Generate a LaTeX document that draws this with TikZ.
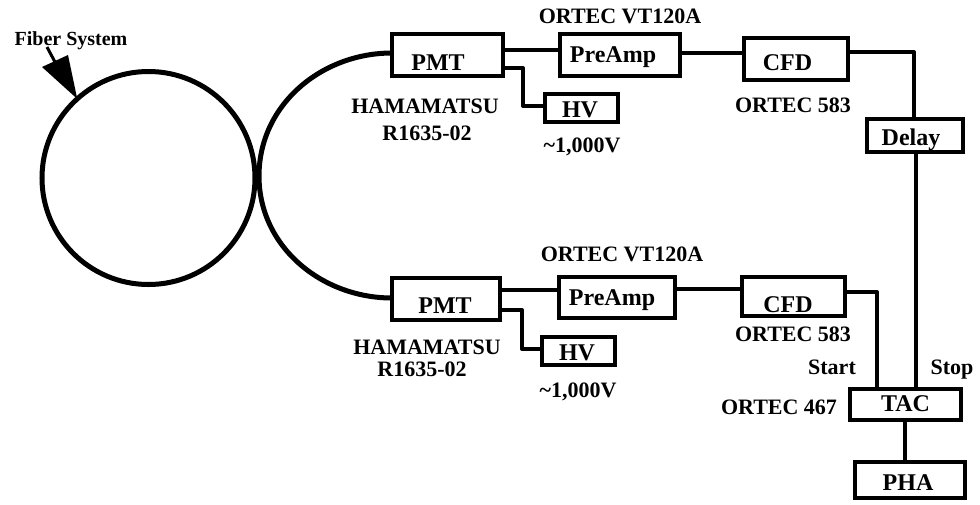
\documentclass[tikz,border=0pt]{standalone}
\usepackage{fontspec}
\setmainfont{Liberation Serif}[BoldFont={Liberation Serif Bold}]
\newcommand\placed[3]{\raisebox{#2pt}[0pt][0pt]{\makebox[0pt][c]{\hspace*{#1pt}#3}}}
\tikzset{
  boxnode/.style={draw=black,line width=4.5pt,fill=white,rectangle,inner sep=0pt,outer sep=0pt,
    font=\fontsize{24}{24}\selectfont\bfseries},
  note/.style={inner sep=0pt,outer sep=0pt,anchor=base,font=\fontsize{22}{22}\selectfont\bfseries},
  wire/.style={draw=black,line width=4pt,line join=round},
  fiber/.style={draw=black,line width=5pt},
}
\begin{document}
\begin{tikzpicture}[x=1pt,y=-1pt]
\useasboundingbox (0,0) rectangle (980,504);
% fibre loop
\node[circle,draw=black,line width=5pt,minimum size=213pt,inner sep=0pt,outer sep=0pt] (ring) at (148.5,178) {};
% boxes (the text offset is given twice over in x, and as a raise of the baseline)
\node[boxnode,minimum width=111pt,minimum height=42pt] (pmta) at (447.5,55) {\placed{-19}{-15}{PMT}};
\node[boxnode,minimum width=120pt,minimum height=42pt] (prea) at (620,55) {\placed{-14}{-7}{PreAmp}};
\node[boxnode,minimum width=104pt,minimum height=42pt] (cfda) at (796,59) {\placed{-17}{-11}{CFD}};
\node[boxnode,minimum width=73pt,minimum height=28pt] (hva) at (581.5,108) {\placed{-3}{-9}{HV}};
\node[boxnode,minimum width=96pt,minimum height=33pt] (delay) at (915,135.5) {\placed{-8}{-9.5}{Delay}};
\node[boxnode,minimum width=108pt,minimum height=42pt] (pmtb) at (446,299) {\placed{-2}{-14}{PMT}};
\node[boxnode,minimum width=116pt,minimum height=41pt] (preb) at (617,297.5) {\placed{-10}{-7.5}{PreAmp}};
\node[boxnode,minimum width=103pt,minimum height=39pt] (cfdb) at (793.5,296.5) {\placed{-11}{-15.5}{CFD}};
\node[boxnode,minimum width=73pt,minimum height=28pt] (hvb) at (578.5,351) {\placed{-3}{-9}{HV}};
\node[boxnode,minimum width=111pt,minimum height=31pt] (tac) at (905.5,404.5) {\placed{0}{-6.5}{TAC}};
\node[boxnode,minimum width=110pt,minimum height=36pt] (pha) at (910,480) {\placed{-4}{-10}{PHA}};
% text labels
\node[note,font=\fontsize{20}{20}\selectfont\bfseries] (fibertext) at (71,45) {Fiber System};
\node[note] (vta) at (620,23) {ORTEC VT120A};
\node[note] (hama) at (425,113) {HAMAMATSU};
\node[note] (ra) at (427,140) {R1635-02};
\node[note] (kva) at (582,152) {\textasciitilde 1,000V};
\node[note] (oa) at (793,112) {ORTEC 583};
\node[note] (vtb) at (622,261) {ORTEC VT120A};
\node[note] (hamb) at (427,354) {HAMAMATSU};
\node[note] (rb) at (422,376) {R1635-02};
\node[note] (kvb) at (578,397) {\textasciitilde 1,000V};
\node[note] (ob) at (793,341) {ORTEC 583};
\node[note] (start) at (832,374) {Start};
\node[note] (stop) at (952,374) {Stop};
\node[note] (ot) at (779,414) {ORTEC 467};
% fibre arcs
\coordinate (fa) at (pmta.west |- 0,53);
\coordinate (fb) at (pmtb.west |- 0,298);
\coordinate (waist) at (259,176);
\draw[fiber] (fa) to[out=180,in=90] (waist) to[out=-90,in=180] (fb);
% pointer
\coordinate (tip) at (ring.132);
\coordinate (stemend) at (55,62);
\coordinate (barbl) at (42,67);
\coordinate (barbr) at (68,55);
\draw[line width=3pt] (47,47) -- (stemend);
\fill[black] (barbl) -- (barbr) -- (tip) -- cycle;
% wires
\draw[wire] (pmta.east |- 0,50) -- (prea.west |- 0,50);
\draw[wire] (pmta.east |- 0,68) -| (523,106) -- (hva.west |- 0,106);
\draw[wire] (prea.east |- 0,53) -- (cfda.west |- 0,53);
\draw[wire] (cfda.east |- 0,52) -| (delay.north -| 914,0);
\draw[wire] (delay.south -| 916,0) -- (tac.north -| 916,0);
\draw[wire] (pmtb.east |- 0,290) -- (preb.west |- 0,290);
\draw[wire] (pmtb.east |- 0,310) -| (522,349) -- (hvb.west |- 0,349);
\draw[wire] (preb.east |- 0,289) -- (cfdb.west |- 0,289);
\draw[wire] (cfdb.east |- 0,292) -| (tac.north -| 877,0);
\draw[wire] (tac.south -| 905,0) -- (pha.north -| 905,0);
\end{tikzpicture}
\end{document}
